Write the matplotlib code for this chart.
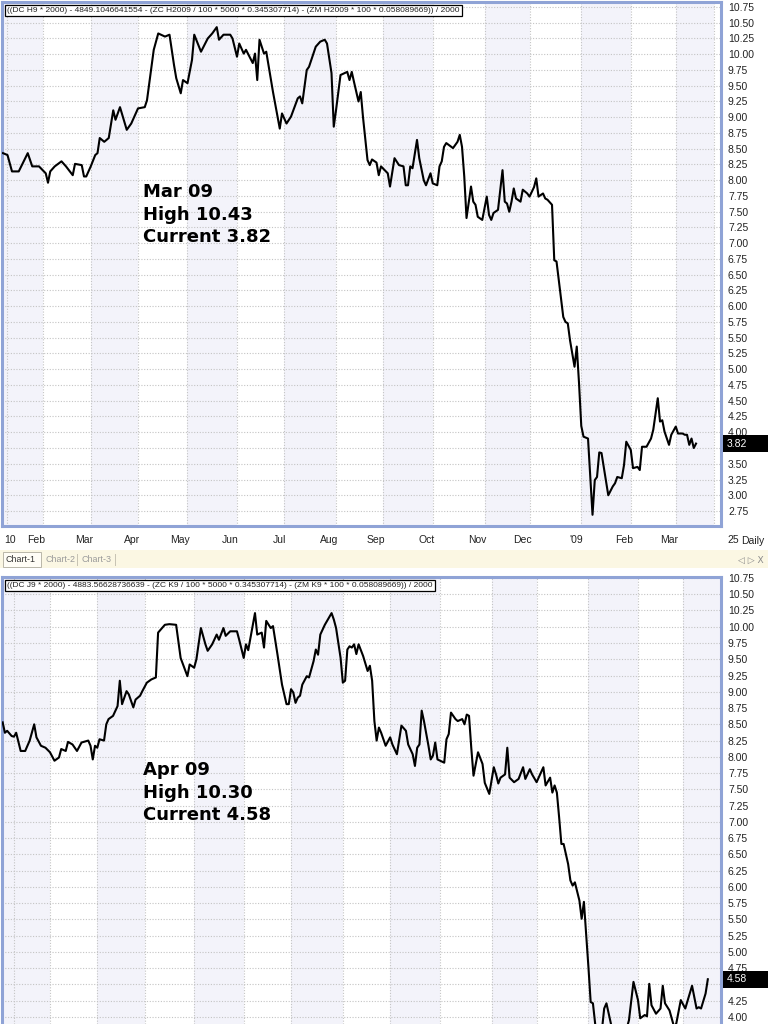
import numpy as np
import pandas as pd
import matplotlib
matplotlib.use("Agg")
import matplotlib.pyplot as plt
from matplotlib.patches import Rectangle

plt.rcParams['font.family'] = ['Liberation Sans', 'DejaVu Sans']

# ---------------- data ----------------
top_title = ("((DC H9 * 2000) - 4849.1046641554 - (ZC H2009 / 100 * 5000 * 0.345307714) "
             "- (ZM H2009 * 100 * 0.058089669)) / 2000")
bot_title = ("((DC J9 * 2000) - 4883.56628736639 - (ZC K9 / 100 * 5000 * 0.345307714) "
             "- (ZM K9 * 100 * 0.058089669)) / 2000")
top_note = ["Mar 09", "High 10.43", "Current 3.82"]
bot_note = ["Apr 09", "High 10.30", "Current 4.58"]
top_last = 3.82
bot_last = 4.58
top_start = "2008-01-08"   # first trading session of the top series
bot_start = "2008-01-02"   # first trading session of the bottom series

# (session number, spread value)
top_pairs = [
    (0, 8.43), (2, 8.40), (4, 8.14), (7, 8.14), (11, 8.43), (13, 8.22), (16, 8.22), (19, 8.11),
    (20, 7.96), (21, 8.14), (23, 8.22), (26, 8.30), (28, 8.22), (31, 8.08), (32, 8.26), (35, 8.24),
    (36, 8.06), (37, 8.06), (39, 8.22), (41, 8.40), (42, 8.43), (43, 8.67), (45, 8.61), (47, 8.67),
    (49, 9.11), (50, 8.96), (52, 9.16), (55, 8.80), (57, 8.90), (60, 9.14), (63, 9.16), (64, 9.27),
    (67, 10.07), (69, 10.33), (72, 10.28), (74, 10.31), (76, 9.83), (77, 9.62), (79, 9.38), (80, 9.59),
    (82, 9.54), (84, 9.91), (85, 10.31), (88, 10.04), (91, 10.25), (93, 10.33), (95, 10.43), (96, 10.23),
    (98, 10.31), (101, 10.31), (102, 10.25), (104, 9.96), (105, 10.17), (107, 10.01), (108, 10.07),
    (111, 9.86), (112, 10.01), (113, 9.59), (114, 10.23), (116, 10.01), (117, 10.04), (120, 9.40),
    (123, 8.82), (124, 9.06), (126, 8.90), (128, 9.01), (131, 9.30), (132, 9.33), (133, 9.22),
    (135, 9.75), (136, 9.80), (139, 10.12), (141, 10.20), (143, 10.23), (144, 10.17), (146, 9.70),
    (147, 8.85), (148, 9.11), (150, 9.67), (153, 9.72), (154, 9.59), (155, 9.72), (156, 9.56),
    (158, 9.25), (159, 9.40), (160, 9.00), (162, 8.32), (163, 8.24), (164, 8.33), (166, 8.28),
    (167, 8.08), (168, 8.22), (171, 8.11), (172, 7.90), (174, 8.35), (176, 8.24), (178, 8.22),
    (179, 7.92), (180, 7.92), (181, 8.22), (182, 8.19), (184, 8.64), (185, 8.35), (187, 8.00),
    (188, 7.92), (190, 8.11), (191, 7.95), (193, 7.92), (194, 8.22), (195, 8.30), (196, 8.53),
    (197, 8.59), (200, 8.51), (202, 8.61), (203, 8.72), (204, 8.53), (205, 8.06), (206, 7.40),
    (208, 7.90), (209, 7.66), (210, 7.61), (211, 7.42), (213, 7.37), (215, 7.74), (216, 7.45),
    (217, 7.37), (218, 7.48), (220, 7.53), (222, 8.16), (223, 7.66), (224, 7.63), (225, 7.50),
    (226, 7.66), (227, 7.87), (228, 7.71), (230, 7.66), (231, 7.85), (233, 7.79), (234, 7.74),
    (236, 7.89), (237, 8.03), (238, 7.74), (240, 7.79), (241, 7.71), (242, 7.69), (244, 7.61),
    (245, 6.73), (246, 6.71), (249, 5.83), (250, 5.75), (251, 5.73), (252, 5.46), (254, 5.04),
    (255, 5.36), (256, 4.78), (257, 4.10), (258, 3.93), (260, 3.90), (262, 2.69), (263, 3.24),
    (264, 3.29), (265, 3.68), (266, 3.67), (269, 3.00), (271, 3.14), (272, 3.19), (273, 3.29),
    (275, 3.27), (276, 3.48), (277, 3.85), (279, 3.72), (280, 3.43), (282, 3.45), (283, 3.40),
    (284, 3.77), (286, 3.77), (288, 3.90), (289, 4.04), (291, 4.54), (292, 4.17), (293, 4.19),
    (294, 4.01), (296, 3.80), (297, 3.96), (299, 4.09), (300, 3.98), (302, 3.98), (303, 3.96),
    (304, 3.96), (305, 3.80), (306, 3.90), (307, 3.75), (308, 3.82),
]

bot_pairs = [
    (1, 8.53), (2, 8.37), (3, 8.40), (5, 8.32), (6, 8.31), (7, 8.37), (9, 8.09), (11, 8.09),
    (13, 8.25), (15, 8.50), (16, 8.30), (18, 8.17), (20, 8.14), (22, 8.07), (24, 7.94), (26, 7.99),
    (27, 8.12), (29, 8.09), (30, 8.23), (32, 8.19), (34, 8.09), (36, 8.22), (39, 8.25), (40, 8.17),
    (41, 7.96), (42, 8.17), (43, 8.14), (44, 8.27), (46, 8.25), (47, 8.50), (48, 8.58), (50, 8.63),
    (52, 8.78), (53, 9.17), (54, 8.81), (56, 9.01), (57, 8.96), (59, 8.76), (60, 8.88), (62, 8.94),
    (63, 9.01), (65, 9.14), (67, 9.19), (69, 9.22), (70, 9.91), (73, 10.03), (75, 10.04), (78, 10.03),
    (80, 9.52), (83, 9.24), (84, 9.42), (86, 9.37), (87, 9.50), (89, 9.98), (91, 9.73), (92, 9.63),
    (94, 9.73), (96, 9.88), (97, 9.80), (99, 9.98), (100, 9.86), (102, 9.93), (105, 9.93), (106, 9.80),
    (108, 9.52), (109, 9.73), (110, 9.64), (113, 10.21), (114, 9.88), (116, 9.91), (117, 9.68),
    (118, 10.09), (120, 9.98), (121, 10.01), (123, 9.57), (125, 9.11), (127, 8.81), (128, 8.81),
    (129, 9.04), (130, 8.99), (131, 8.83), (132, 8.91), (133, 8.94), (134, 9.11), (136, 9.24),
    (137, 9.22), (139, 9.47), (140, 9.65), (141, 9.57), (142, 9.88), (144, 10.03), (145, 10.09),
    (147, 10.21), (148, 10.11), (149, 9.98), (151, 9.52), (152, 9.14), (153, 9.17), (154, 9.65),
    (155, 9.70), (156, 9.68), (157, 9.73), (158, 9.58), (159, 9.73), (161, 9.55), (163, 9.32),
    (164, 9.40), (165, 9.17), (166, 8.55), (167, 8.25), (168, 8.45), (169, 8.37), (171, 8.17),
    (173, 8.30), (174, 8.19), (176, 8.04), (178, 8.48), (180, 8.40), (181, 8.19), (183, 8.04),
    (184, 7.86), (185, 8.14), (186, 8.19), (187, 8.71), (188, 8.55), (190, 8.17), (191, 7.96),
    (192, 8.02), (193, 8.22), (194, 7.96), (197, 7.91), (198, 8.27), (199, 8.35), (200, 8.68),
    (202, 8.58), (203, 8.55), (205, 8.58), (206, 8.50), (207, 8.65), (208, 8.63), (209, 8.14),
    (210, 7.71), (212, 8.07), (214, 7.89), (215, 7.60), (217, 7.43), (219, 7.84), (220, 7.73),
    (221, 7.59), (222, 7.68), (224, 7.73), (225, 8.14), (226, 7.68), (228, 7.61), (230, 7.66),
    (232, 7.84), (233, 7.66), (235, 7.81), (236, 7.73), (238, 7.61), (241, 7.84), (242, 7.56),
    (244, 7.68), (245, 7.45), (246, 7.56), (247, 7.45), (248, 7.07), (249, 6.66), (250, 6.66),
    (252, 6.35), (253, 6.10), (254, 6.02), (255, 6.07), (257, 5.79), (258, 5.51), (259, 5.77),
    (260, 5.28), (261, 4.77), (262, 4.23), (263, 4.21), (264, 3.90), (265, 3.50), (266, 3.30),
    (267, 3.80), (268, 4.13), (269, 4.21), (271, 3.90), (272, 3.70), (274, 3.55), (276, 3.60),
    (277, 3.70), (279, 3.95), (281, 4.54), (283, 4.26), (284, 3.98), (286, 4.03), (287, 4.01),
    (288, 4.51), (289, 4.18), (291, 4.05), (293, 4.13), (294, 4.48), (295, 4.21), (297, 4.10),
    (299, 3.85), (300, 3.90), (302, 4.26), (304, 4.13), (306, 4.36), (307, 4.48), (309, 4.13),
    (310, 4.15), (311, 4.13), (313, 4.36), (314, 4.58),
]

top_yticks = np.arange(2.75, 10.76, 0.25)
bot_yticks = np.arange(4.00, 10.76, 0.25)

# ---------------- styling ----------------
W, H = 768, 1024
BORDER = '#8fa3d6'
BAND = '#f3f3fa'
GRID = '#c4c4c4'
TAB = '#fbf7e3'

fig = plt.figure(figsize=(W / 100, H / 100), dpi=100)
fig.patch.set_facecolor('white')


def calendar_marks(start):
    days = pd.bdate_range(start, periods=340)
    marks = [(days.get_loc(pd.Timestamp("2008-01-10")), "10")]
    for i in range(1, len(days)):
        d = days[i]
        if d > pd.Timestamp("2009-03-31"):
            break
        if d.month != days[i - 1].month:
            lab = "'09" if (d.year == 2009 and d.month == 1) else d.strftime("%b")
            marks.append((i, lab))
    marks.append((days.get_loc(pd.Timestamp("2009-03-25")), "25"))
    return marks


def draw_panel(ax, xlim, ylim, pairs, marks, yticks, title, last, bottom_spine=True):
    ax.set_xlim(xlim)
    ax.set_ylim(ylim)
    bounds = [xlim[0]] + [m for m, _ in marks[1:]] + [xlim[1]]
    for k in range(len(bounds) - 1):
        if k % 2 == 0:
            ax.axvspan(bounds[k], bounds[k + 1], color=BAND, lw=0, zorder=0)
    for m, _ in marks:
        ax.axvline(m, color=GRID, lw=0.8, ls=(0, (1, 1.5)), zorder=1)
    for y in yticks:
        ax.axhline(y, color=GRID, lw=0.8, ls=(0, (1, 1.5)), zorder=1)
    s, v = zip(*pairs)
    ax.plot(s, v, color='black', lw=1.5, zorder=3)
    for name, sp in ax.spines.items():
        sp.set_color(BORDER)
        sp.set_linewidth(2.2)
    if not bottom_spine:
        ax.spines['bottom'].set_visible(False)
    ax.set_xticks([])
    ax.yaxis.tick_right()
    # labels fully hidden behind the current-value box are left out
    shown = [y for y in yticks if abs(y - last) > 0.1]
    ax.set_yticks(shown)
    ax.set_yticklabels([f"{y:.2f}" for y in shown])
    ax.tick_params(axis='y', length=0, pad=5, labelsize=7.5, labelcolor='#222222')
    ax.annotate(title, xy=(0, 1), xycoords='axes fraction', xytext=(5, -5),
                textcoords='offset pixels', ha='left', va='top', fontsize=6.0,
                family=['Liberation Sans Narrow', 'Liberation Sans', 'DejaVu Sans'],
                color='#222222', zorder=6,
                bbox=dict(boxstyle='square,pad=0.25', fc='white', ec='black', lw=0.9))


top_marks = calendar_marks(top_start)
bot_marks = calendar_marks(bot_start)

ax_top = fig.add_axes([2 / W, 1 - 526 / H, 719 / W, 524 / H])
ax_bot = fig.add_axes([2 / W, 0, 719 / W, (H - 577) / H])

draw_panel(ax_top, (-0.44, 319.1), (2.512, 10.829), top_pairs, top_marks, top_yticks,
           top_title, top_last)
draw_panel(ax_bot, (0.71, 319.85), (3.892, 10.765), bot_pairs, bot_marks, bot_yticks,
           bot_title, bot_last, bottom_spine=False)

# x labels under top chart
for m, lab in top_marks:
    if lab in ("25", "10"):
        continue
    xd = ax_top.transData.transform((m, 0))[0]
    fig.text((xd + 2) / W, 1 - 540 / H, lab, ha='right', va='center', fontsize=7.5, color='#222222')
fig.text(4 / W, 1 - 540 / H, "10", ha='left', va='center', fontsize=7.5, color='#222222')
fig.text(733 / W, 1 - 540 / H, "25", ha='center', va='center', fontsize=7.5, color='#222222')
fig.text(741 / W, 1 - 541 / H, "Daily", ha='left', va='center', fontsize=7.5, color='#222222')

# tab bar
fig.patches.append(Rectangle((0, 1 - 568 / H), 1, 18 / H, transform=fig.transFigure,
                             fc=TAB, ec='none', zorder=0))
fig.patches.append(Rectangle((3 / W, 1 - 567 / H), 38 / W, 15 / H, transform=fig.transFigure,
                             fc='#fffdf6', ec='#b9b6a8', lw=0.7, zorder=1))
fig.text(6 / W, 1 - 560 / H, "Chart-1", ha='left', va='center', fontsize=6.4, color='#333333')
fig.text(45 / W, 1 - 560 / H, "Chart-2", ha='left', va='center', fontsize=6.4, color='#9a9a9a')
fig.text(82 / W, 1 - 560 / H, "Chart-3", ha='left', va='center', fontsize=6.4, color='#9a9a9a')
for xs in (77, 115):
    fig.patches.append(Rectangle((xs / W, 1 - 566 / H), 1 / W, 12 / H, transform=fig.transFigure,
                                 fc='#c8c4b4', ec='none', zorder=1))
fig.text(764 / W, 1 - 560 / H, "◁ ▷ X", ha='right', va='center', fontsize=6.5, color='#8a8a8a',
         family=['DejaVu Sans'])

# annotation notes
fig.text(143 / W, 1 - 183 / H, "\n".join(top_note), ha='left', va='top', fontsize=13,
         fontweight='bold', family=['DejaVu Sans'], linespacing=1.33, color='black')
fig.text(143 / W, 1 - 761 / H, "\n".join(bot_note), ha='left', va='top', fontsize=13,
         fontweight='bold', family=['DejaVu Sans'], linespacing=1.33, color='black')


# current value boxes
def last_box(ax, value):
    yd = ax.transData.transform((0, value))[1]
    fig.patches.append(Rectangle((723 / W, (yd - 8.5) / H), 45 / W, 17 / H,
                                 transform=fig.transFigure, fc='black', ec='none', zorder=10))
    fig.text(727 / W, yd / H, f"{value:.2f}", ha='left', va='center', fontsize=7.5,
             color='white', zorder=11)


last_box(ax_top, top_last)
last_box(ax_bot, bot_last)

fig.savefig("out.png", dpi=100)
